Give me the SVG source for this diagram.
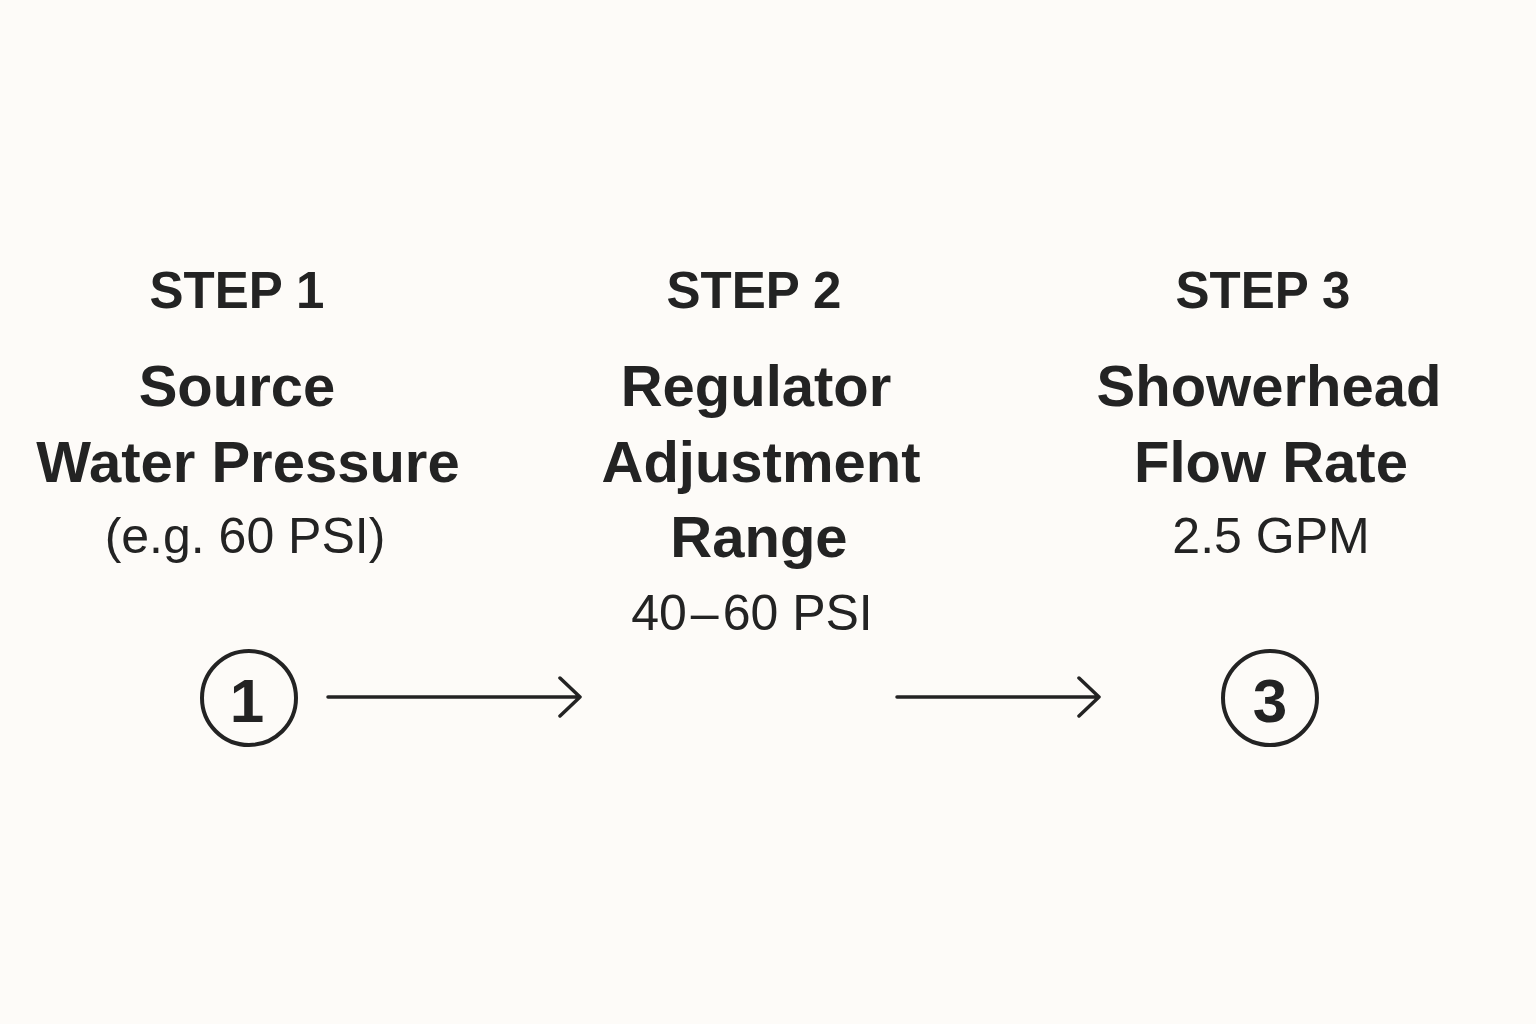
<svg xmlns="http://www.w3.org/2000/svg" width="1536" height="1024" viewBox="0 0 1536 1024">
<style>
text{font-family:"Liberation Sans",Arial,sans-serif;fill:#232323;text-anchor:middle}
.step{font-weight:bold;font-size:51px}
.title{font-weight:bold;font-size:58px}
.sub{font-size:50px}
.num{font-weight:bold;font-size:62px}
.ring{fill:none;stroke:#232323;stroke-width:4}
.conn{fill:none;stroke:#232323;stroke-width:3.5;stroke-linecap:round;stroke-linejoin:round}
</style>
<rect width="1536" height="1024" fill="#fdfbf8"/>
<g id="step1">
<text class="step" x="237" y="308">STEP 1</text>
<text class="title" x="237" y="406">Source</text>
<text class="title" x="248" y="482">Water Pressure</text>
<text class="sub" x="245" y="553">(e.g. 60 PSI)</text>
<circle class="ring" cx="249" cy="698" r="47"/>
<text class="num" x="247" y="722">1</text>
</g>
<g id="step2">
<text class="step" x="754" y="308">STEP 2</text>
<text class="title" x="756" y="406">Regulator</text>
<text class="title" x="761" y="482">Adjustment</text>
<text class="title" x="759" y="557">Range</text>
<text class="sub" x="752" y="630">40<tspan dx="4">–</tspan><tspan dx="4">60 PSI</tspan></text>
</g>
<g id="step3">
<text class="step" x="1263" y="308">STEP 3</text>
<text class="title" x="1269" y="406">Showerhead</text>
<text class="title" x="1271" y="482">Flow Rate</text>
<text class="sub" x="1271" y="553">2.5 GPM</text>
<circle class="ring" cx="1270" cy="698" r="47"/>
<text class="num" x="1270" y="722">3</text>
</g>
<g id="connectors">
<path class="conn" d="M328 697H580M560 678L580 697L560 716"/>
<path class="conn" d="M897 697H1099M1079 678L1099 697L1079 716"/>
</g>
</svg>
